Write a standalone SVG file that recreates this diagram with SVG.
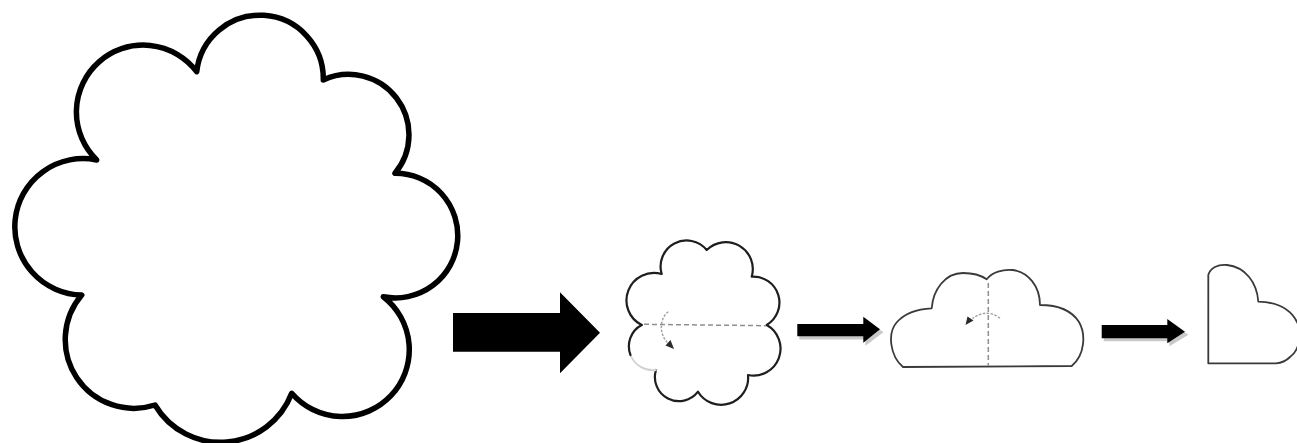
<svg xmlns="http://www.w3.org/2000/svg" width="1297" height="443" viewBox="0 0 1297 443">
  <style>
    .bg { fill: #ffffff; }
    .outline-big { fill: #ffffff; stroke: #000000; stroke-width: 5.5; stroke-linejoin: round; stroke-linecap: round; }
    .outline-sm { fill: #ffffff; stroke: #1e1e1e; stroke-width: 2.2; stroke-linejoin: round; stroke-linecap: round; }
    .outline-thin { fill: #ffffff; stroke: #3a3a3a; stroke-width: 1.8; stroke-linejoin: round; stroke-linecap: round; }
    .faint { fill: none; stroke: #d2d2d2; stroke-width: 1.8; stroke-linecap: round; }
    .fold { fill: none; stroke: #8f8f8f; stroke-width: 1.5; stroke-dasharray: 5 3; }
    .turn { fill: none; stroke: #a0a0a0; stroke-width: 1.4; stroke-dasharray: 2.5 1.5; }
    .turn-head { fill: #2a2a2a; }
    .arrow { fill: #000000; }
    .arrow-shadow { fill: #c9c9c9; }
  </style>

  <rect class="bg" x="0" y="0" width="1297" height="443"/>

  <!-- large eight-lobed cloud -->
  <g id="cloud-large">
    <path class="outline-big" d="M196.7,71.7
      A63.5,63.5 0 0,1 323.3,80
      A60.3,60.3 0 0,1 395,173.3
      A62.3,62.3 0 1,1 383.3,296.7
      A66.9,66.9 0 1,1 291.7,393.3
      A76.2,76.2 0 0,1 155,405
      A68.7,68.7 0 0,1 81.7,295
      A68.2,68.2 0 1,1 96.7,160
      A66.9,66.9 0 1,1 196.7,71.7 Z"/>
  </g>

  <!-- small cloud with horizontal fold line -->
  <g id="cloud-fold-1">
    <path class="outline-sm" d="M641.7,325
      A27.5,27.5 0 0,1 661.7,274
      A26,26 0 0,1 706.7,250
      A27,27 0 0,1 751.7,276.7
      A26,26 0 0,1 766.7,325
      A27,27 0 0,1 748,375
      A27,27 0 0,1 698,391.7
      A24,24 0 0,1 656,370"/>
    <path d="M656,370 A24,24 0 0,1 630.5,355" class="faint"/>
    <path d="M630.5,355 A24,24 0 0,1 641.7,325" class="outline-sm" fill="none"/>
    <line class="fold" x1="644" y1="324.3" x2="766" y2="325.7"/>
    <path class="turn" d="M668.3,311.7 C659.5,318 658.5,335 668.5,343.5"/>
    <polygon class="turn-head" points="674,349 665.5,345.5 670.5,340"/>
  </g>

  <!-- cloud folded in half, with vertical fold line -->
  <g id="cloud-fold-2">
    <path class="outline-thin" d="M903,367
      C890,356 887,333 897,322
      C905,313 918,309 931.7,308.3
      C933,290 945,273 963,273
      C974,273 982,276 986.7,279.3
      C992,272 1003,269 1013,270
      C1028,272 1040,286 1040,305
      C1058,305 1072,311 1079,322
      C1086,334 1085,355 1071.7,366
      L903,367 Z"/>
    <line class="fold" x1="988.3" y1="283" x2="988.3" y2="366"/>
    <path class="turn" d="M1000,318.3 Q987,308 972.5,318.5"/>
    <polygon class="turn-head" points="965.5,325 967.5,316.5 973.5,320.5"/>
  </g>

  <!-- quarter-folded result -->
  <g id="cloud-fold-3">
    <path class="outline-thin" d="M1208.3,363.3 L1208.3,275
      C1210,268 1218,264 1227,265
      C1245,267 1257,282 1258.3,301.7
      C1275,302 1290,308 1297,322
      C1302,333 1300,350 1290,357
      C1286,361 1282,363 1276,363.3
      L1208.3,363.3 Z"/>
  </g>

  <!-- step arrows -->
  <g id="connectors">
    <polygon class="arrow" points="453,313 560,313 560,292.3 600,332.7 560,373.3 560,351.7 453,351.7"/>

    <polygon class="arrow-shadow" points="799.3,327 865.3,327 865.3,319.7 883.5,332.3 865.3,345.7 865.3,339.5 799.3,339.5"/>
    <polygon class="arrow" points="797.3,324 863.3,324 863.3,316.7 880,329.3 863.3,342.7 863.3,336.3 797.3,336.3"/>

    <polygon class="arrow-shadow" points="1103.7,328 1169.3,328 1169.3,322 1188.5,334.7 1169.3,346.3 1169.3,341.3 1103.7,341.3"/>
    <polygon class="arrow" points="1101.7,325 1167.3,325 1167.3,319 1185,331.7 1167.3,343.3 1167.3,338.3 1101.7,338.3"/>
  </g>
</svg>
